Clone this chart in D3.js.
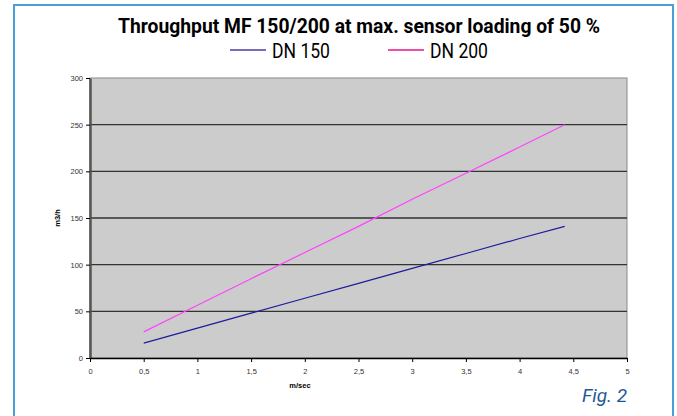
<!DOCTYPE html>
<html>
<head>
<meta charset="utf-8">
<script src="https://cdn.jsdelivr.net/npm/d3@7"></script>
<style>
  body { margin: 0; background: #fff; }
  svg { display: block; }
</style>
</head>
<body>
<div id="my_dataviz"></div>
<script>
// data
var speed  = [0.5, 1, 1.5, 2, 2.5, 3, 3.5, 4, 4.42];
var dn150  = [16, 32, 48, 64, 80, 96, 112, 128, 141];
var dn200  = [28, 56.5, 85, 113, 141, 170, 198, 226, 250];
var seriesNames = ["DN 150", "DN 200"];
var seriesColors = ["#1c1c9c", "#ff44ff"];
var legendColors = ["#4b3aa2", "#e8148c"];
var xTicks = [0, 0.5, 1, 1.5, 2, 2.5, 3, 3.5, 4, 4.5, 5];
var yTicks = [0, 50, 100, 150, 200, 250, 300];

var W = 677, H = 416;
var margin = {top: 78, right: 50, bottom: 58, left: 90},
    width = 627 - margin.left,
    height = 358 - margin.top;

var svg = d3.select("#my_dataviz")
  .append("svg")
    .attr("width", W)
    .attr("height", H);

// outer blue frame
svg.append("path")
  .attr("d", "M14,420 L14,5 L673,5 L673,420")
  .attr("fill", "none")
  .attr("stroke", "#4a9fd6")
  .attr("stroke-width", 2);

// title (condensed look)
svg.append("text")
  .attr("x", 118).attr("y", 33)
  .attr("textLength", 482)
  .attr("lengthAdjust", "spacingAndGlyphs")
  .style("font-family", "Roboto, sans-serif")
  .style("font-weight", "bold")
  .style("font-size", "20px")
  .text("Throughput MF 150/200 at max. sensor loading of 50 %");

// legend
var legX = [230, 388];
seriesNames.forEach(function(n, i) {
  svg.append("line")
    .attr("x1", legX[i]).attr("x2", legX[i] + 36)
    .attr("y1", 50).attr("y2", 50)
    .attr("stroke", legendColors[i])
    .attr("stroke-width", 1.5);
  svg.append("text")
    .attr("x", legX[i] + 42).attr("y", 57.5)
    .attr("textLength", 58)
    .attr("lengthAdjust", "spacingAndGlyphs")
    .style("font-family", "Roboto, sans-serif")
    .style("font-size", "19.5px")
    .text(n);
});

var g = svg.append("g")
  .attr("transform", "translate(" + margin.left + "," + margin.top + ")");

var x = d3.scaleLinear().domain([0, 5]).range([0, width]);
var y = d3.scaleLinear().domain([0, 300]).range([height, 0]);

// plot background
g.append("rect")
  .attr("width", width).attr("height", height)
  .attr("fill", "#cccccc")
  .attr("stroke", "#8a8a8a")
  .attr("stroke-width", 1);

// gridlines
g.append("g")
  .selectAll("line")
  .data(yTicks.filter(function(d) { return d > 0 && d < 300; }))
  .enter()
    .append("line")
    .attr("x1", 0).attr("x2", width)
    .attr("y1", function(d) { return y(d); })
    .attr("y2", function(d) { return y(d); })
    .attr("stroke", "#333")
    .attr("stroke-width", 1.3);

// axes
var yAxis = g.append("g")
  .call(d3.axisLeft(y).tickValues(yTicks).tickSize(4).tickSizeOuter(0).tickFormat(d3.format("d")));
yAxis.select(".domain").attr("stroke", "#555").attr("stroke-width", 2.5);

var xAxis = g.append("g")
  .attr("transform", "translate(0," + height + ")")
  .call(d3.axisBottom(x).tickValues(xTicks).tickSize(4).tickSizeOuter(0)
    .tickFormat(function(d) { return String(d).replace(".", ","); }));
xAxis.select(".domain").attr("stroke", "#000").attr("stroke-width", 1.5);

[yAxis, xAxis].forEach(function(a) {
  a.selectAll("text")
    .style("font-family", "'Liberation Sans', Arial, sans-serif")
    .style("font-size", "7.5px")
    .attr("fill", "#333");
});
xAxis.selectAll("text").attr("dy", "1.2em");

// axis titles
svg.append("text")
  .attr("x", 300).attr("y", 388)
  .attr("text-anchor", "middle")
  .style("font-family", "'Liberation Sans', Arial, sans-serif")
  .style("font-weight", "bold")
  .style("font-size", "7.5px")
  .text("m/sec");

svg.append("text")
  .attr("transform", "translate(60,218) rotate(-90)")
  .attr("text-anchor", "middle")
  .style("font-family", "'Liberation Sans', Arial, sans-serif")
  .style("font-weight", "bold")
  .style("font-size", "7.5px")
  .text("m3/h");

// lines
var line = d3.line()
  .x(function(d) { return x(d[0]); })
  .y(function(d) { return y(d[1]); });

[dn150, dn200].forEach(function(vals, i) {
  g.append("path")
    .datum(speed.map(function(s, j) { return [s, vals[j]]; }))
    .attr("fill", "none")
    .attr("stroke", seriesColors[i])
    .attr("stroke-width", 1.2)
    .attr("d", line);
});

// figure label
svg.append("text")
  .attr("x", 627).attr("y", 402)
  .attr("text-anchor", "end")
  .style("font-family", "Roboto, sans-serif")
  .style("font-style", "italic")
  .style("font-size", "19px")
  .attr("fill", "#1e5a96")
  .text("Fig. 2");
</script>
</body>
</html>
